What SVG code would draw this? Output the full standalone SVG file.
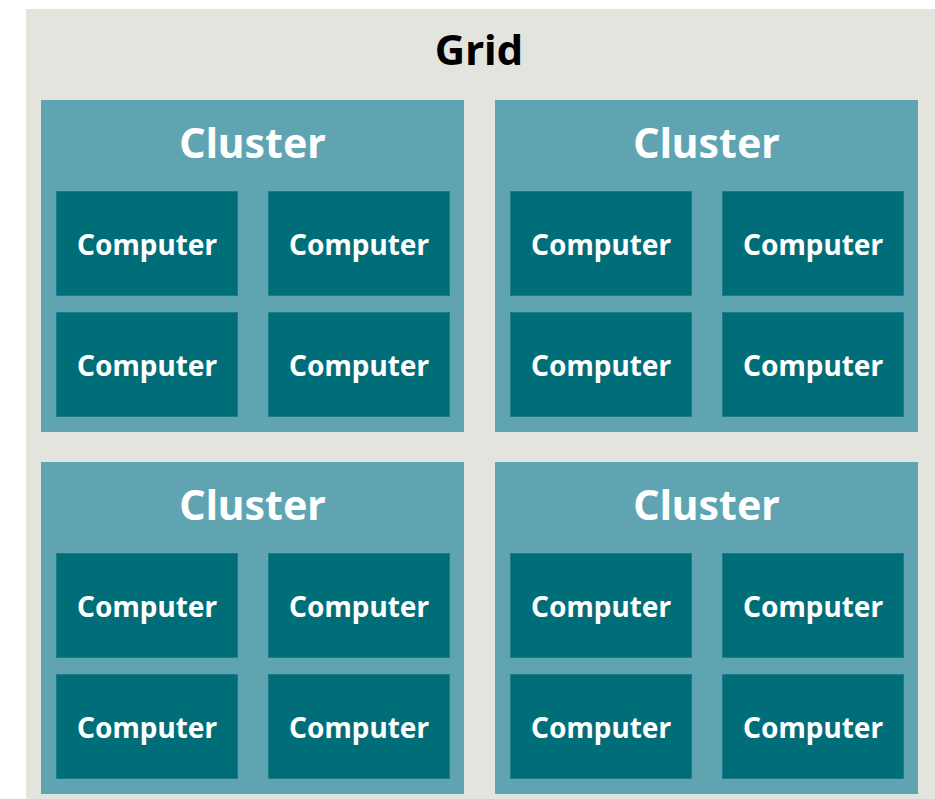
<svg xmlns="http://www.w3.org/2000/svg" width="935" height="799" viewBox="0 0 935 799">
<style>
.grid{fill:#e4e4df}
.cl{fill:#61a4b1}
.pc{fill:#006e79;stroke:#1a7d88;stroke-width:1}
text{font-family:"Noto Sans","Open Sans","Liberation Sans",sans-serif;font-weight:bold;text-anchor:middle}
.t{font-size:42px;fill:#000}
.ct{font-size:41px;fill:#fff}
.pt{font-size:28px;fill:#fff}
</style>
<defs>
<g id="cluster">
<rect class="cl" x="0" y="0" width="423" height="332"/>
<text class="ct" x="211.5" y="57.5">Cluster</text>
<rect class="pc" x="15.5" y="91.5" width="181" height="104"/>
<text class="pt" x="106" y="154.5">Computer</text>
<rect class="pc" x="227.5" y="91.5" width="181" height="104"/>
<text class="pt" x="318" y="154.5">Computer</text>
<rect class="pc" x="15.5" y="212.5" width="181" height="104"/>
<text class="pt" x="106" y="275.5">Computer</text>
<rect class="pc" x="227.5" y="212.5" width="181" height="104"/>
<text class="pt" x="318" y="275.5">Computer</text>
</g>
</defs>
<g id="grid">
<rect class="grid" x="26" y="9" width="909" height="790"/>
<text class="t" x="479" y="65">Grid</text>
</g>
<g id="cluster1"><use href="#cluster" x="41" y="100"/></g>
<g id="cluster2"><use href="#cluster" x="495" y="100"/></g>
<g id="cluster3"><use href="#cluster" x="41" y="462"/></g>
<g id="cluster4"><use href="#cluster" x="495" y="462"/></g>
<g id="connectors"/>
</svg>
